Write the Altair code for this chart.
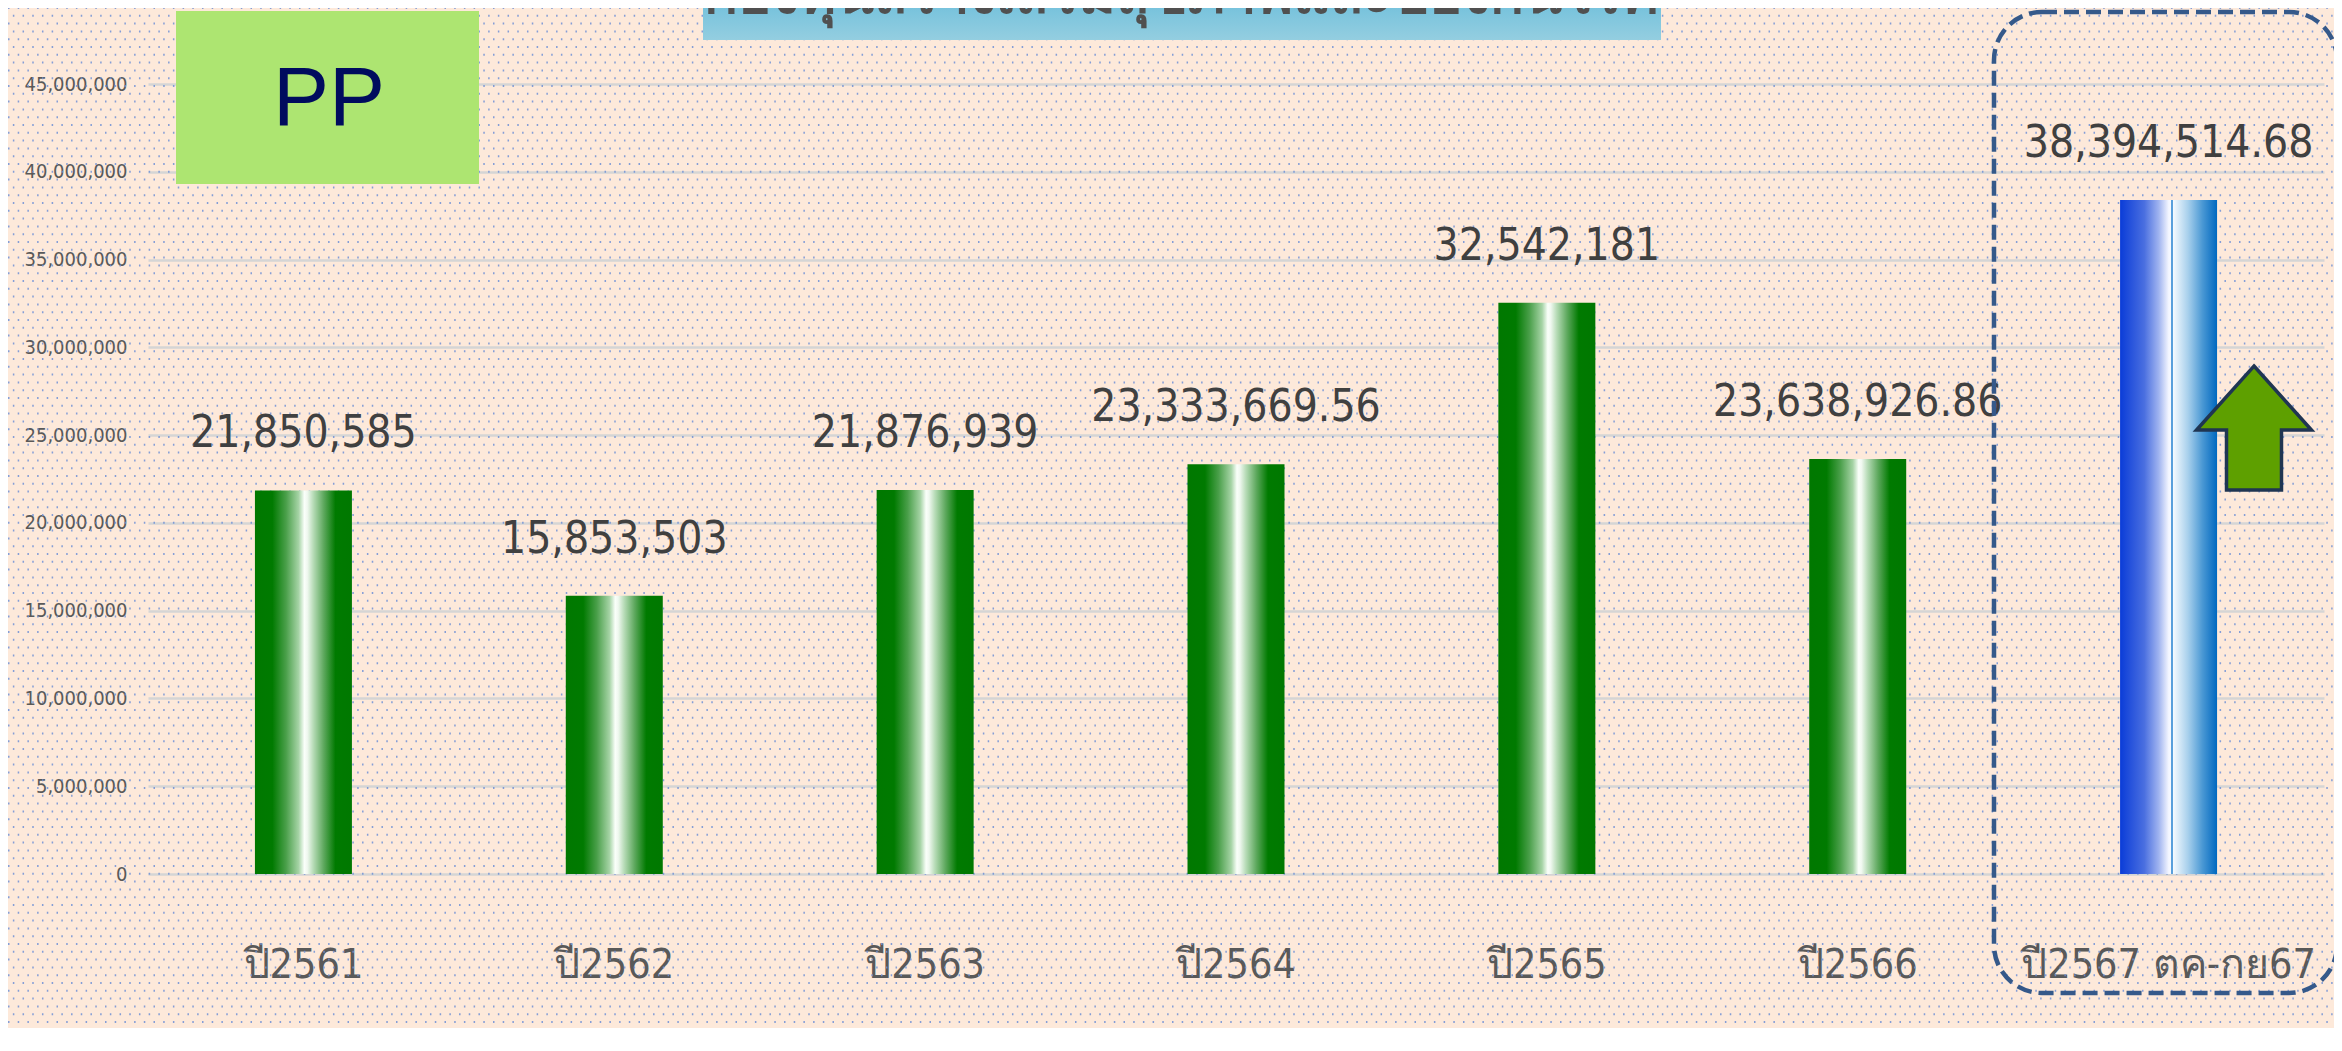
import altair as alt
import pandas as pd

# ---------------- data ----------------
categories = ["ปี2561", "ปี2562", "ปี2563", "ปี2564", "ปี2565", "ปี2566", "ปี2567 ตค-กย67"]
values = [21850585, 15853503, 21876939, 23333669.56, 32542181, 23638926.86, 38394514.68]
value_labels = ["21,850,585", "15,853,503", "21,876,939", "23,333,669.56",
                "32,542,181", "23,638,926.86", "38,394,514.68"]
highlight = [False, False, False, False, False, False, True]
y_ticks = [0, 5000000, 10000000, 15000000, 20000000, 25000000, 30000000, 35000000, 40000000, 45000000]
badge_text = "PP"
title_text = "กองทุนสร้างเสริมสุขภาพและป้องกันโรค"

df = pd.DataFrame({"cat": categories, "value": values, "label": value_labels, "hl": highlight})

# ---------------- layout ----------------
W, H = 2176, 790
PAD = {"left": 140, "top": 76, "right": 10, "bottom": 154}
BG = "#FDE9DA"
FONT_NARROW = "Liberation Sans Narrow, DejaVu Sans Condensed, Liberation Sans, sans-serif"

green_grad = {
    "gradient": "linear", "x1": 0, "x2": 1, "y1": 0, "y2": 0,
    "stops": [
        {"offset": 0.0, "color": "#007800"},
        {"offset": 0.18, "color": "#007A00"},
        {"offset": 0.32, "color": "#4A9F4A"},
        {"offset": 0.45, "color": "#A5D3A5"},
        {"offset": 0.51, "color": "#FAFFFA"},
        {"offset": 0.54, "color": "#F0F8F0"},
        {"offset": 0.60, "color": "#B8DCB8"},
        {"offset": 0.71, "color": "#5DA85D"},
        {"offset": 0.83, "color": "#007A00"},
        {"offset": 1.0, "color": "#007800"},
    ],
}
blue_grad = {
    "gradient": "linear", "x1": 0, "x2": 1, "y1": 0, "y2": 0,
    "stops": [
        {"offset": 0.0, "color": "#0A3CD8"},
        {"offset": 0.25, "color": "#4A6FE0"},
        {"offset": 0.40, "color": "#A0B4F0"},
        {"offset": 0.50, "color": "#F2F5FF"},
        {"offset": 0.525, "color": "#F8FAFF"},
        {"offset": 0.53, "color": "#5AA0DC"},
        {"offset": 0.545, "color": "#5AA0DC"},
        {"offset": 0.55, "color": "#F4FAFF"},
        {"offset": 0.70, "color": "#A8D0EC"},
        {"offset": 0.85, "color": "#4A98D4"},
        {"offset": 1.0, "color": "#0068C0"},
    ],
}

x_enc = alt.X(
    "cat:N", sort=categories,
    scale=alt.Scale(paddingInner=0.688, paddingOuter=0.344),
    axis=alt.Axis(title=None, labelAngle=0, labelFontSize=41, labelColor="#595959",
                  labelFont=FONT_NARROW, labelPadding=103, labelBaseline="alphabetic",
                  labelLimit=0, ticks=False, domain=False, grid=False),
)
y_enc = alt.Y(
    "value:Q", scale=alt.Scale(domain=[0, 45000000], nice=False),
    axis=alt.Axis(title=None, values=y_ticks, format=",d", labelFontSize=20,
                  labelColor="#595959", labelFont=FONT_NARROW, labelPadding=21,
                  labelLimit=0, ticks=False, domain=False, grid=True,
                  gridColor="#D5D5D5", gridWidth=2.5),
)

base = alt.Chart(df)

bars = base.mark_bar().encode(
    x=x_enc, y=y_enc,
    color=alt.condition("datum.hl", alt.value(blue_grad), alt.value(green_grad)),
)
labels = base.mark_text(dy=-43, baseline="alphabetic", fontSize=44, font=FONT_NARROW,
                        color="#404040").encode(x=x_enc, y=y_enc, text="label:N")

one = alt.Data(values=[{}])

title_box = alt.Chart(one).mark_rect(
    color={"gradient": "linear", "x1": 0, "x2": 0, "y1": 0, "y2": 1,
           "stops": [{"offset": 0, "color": "#6CBEDB"}, {"offset": 1, "color": "#94CEE0"}]}
).encode(x=alt.value(555), x2=alt.value(1513), y=alt.value(-90), y2=alt.value(-44))
title_txt = alt.Chart(one).mark_text(
    text=title_text, fontSize=56, fontWeight="bold", color="#505050", baseline="alphabetic",
    align="center", font="Noto Sans, DejaVu Sans, sans-serif"
).encode(x=alt.value(1033), y=alt.value(-71))

pp_box = alt.Chart(one).mark_rect(color="#ADE571").encode(
    x=alt.value(28), x2=alt.value(331), y=alt.value(-73), y2=alt.value(100))
pp_txt = alt.Chart(one).mark_text(
    text=badge_text, fontSize=84, color="#000B5E", font="Liberation Sans",
    baseline="middle", align="center").encode(x=alt.value(181), y=alt.value(16))

dash_box = alt.Chart(one).mark_rect(
    fill=None, stroke="#35598A", strokeWidth=4.5, strokeDash=[15, 7], cornerRadius=48
).encode(x=alt.value(1846), x2=alt.value(2189), y=alt.value(-72), y2=alt.value(909))

arrow_shape = "M0,-1.078 L1,0.035 L0.478,0.035 L0.478,1.078 L-0.478,1.078 L-0.478,0.035 L-1,0.035 Z"
arrow = alt.Chart(one).mark_point(
    shape=arrow_shape, size=13225, filled=True, fill="#5EA000", stroke="#1F3552",
    strokeWidth=3.5, opacity=1
).encode(x=alt.value(2106), y=alt.value(344))

# background dot texture (decoration)
dots_a = alt.Chart(alt.sequence(-76, 960, 15.6, as_="v")).mark_rule(
    color="#6F90D6", strokeWidth=2, strokeDash=[1.5, 8.2], opacity=0.85
).encode(y=alt.Y("v:Q", scale=None, axis=None), x=alt.value(-140), x2=alt.value(W + 10))
dots_b = alt.Chart(alt.sequence(-68.2, 960, 15.6, as_="v")).mark_rule(
    color="#6F90D6", strokeWidth=2, strokeDash=[1.5, 8.2], strokeDashOffset=4.85, opacity=0.85
).encode(y=alt.Y("v:Q", scale=None, axis=None), x=alt.value(-140), x2=alt.value(W + 10))

dots = alt.layer(dots_a, dots_b)
main = alt.layer(title_box, title_txt, pp_box, pp_txt, bars, labels, dash_box, arrow)

chart = alt.layer(dots, main).resolve_scale(y="independent").properties(
    width=W, height=H, padding=PAD,
    autosize=alt.AutoSizeParams(type="none"),
    background=BG,
).configure_view(stroke=None)

chart.save("out.html", embed_options={"renderer": "svg", "actions": False})
